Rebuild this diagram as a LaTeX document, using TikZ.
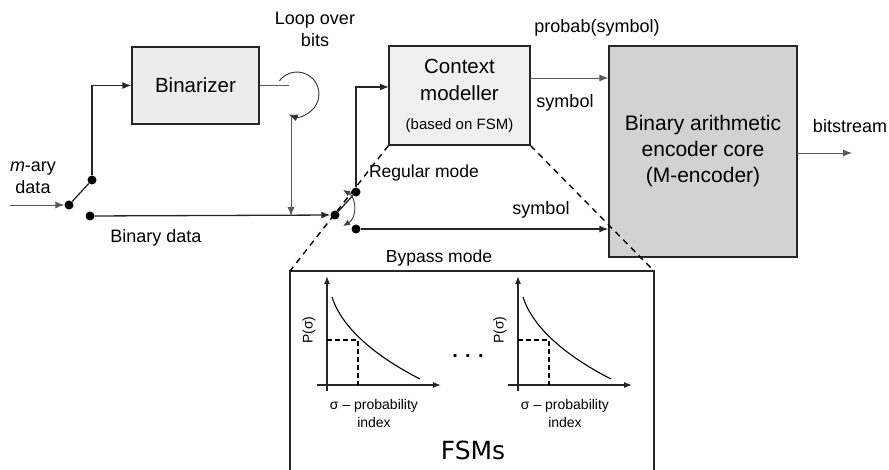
\documentclass[tikz,border=0pt]{standalone}
\usepackage{fontspec}
\setmainfont{Liberation Sans}
\newfontfamily\fsmfont{DejaVu Sans}
\usetikzlibrary{arrows.meta}
\begin{document}
\begin{tikzpicture}[x=1pt,y=-1pt,
  line/.style={draw=black!85, line width=1.3pt},
  thinline/.style={draw=black!65, line width=0.9pt},
  arr/.style={-{Latex[length=9pt,width=7pt]}},
  smallarr/.style={-{Latex[length=8pt,width=6pt]}},
  blk/.style={draw=black!85, line width=1.3pt, inner sep=0pt, align=center},
  dotn/.style={circle, fill=black, inner sep=0pt, minimum size=9pt},
  lbl/.style={font=\fontsize{18}{22}\selectfont, inner sep=0pt, align=center},
  small/.style={font=\fontsize{14}{18}\selectfont, inner sep=0pt, align=center},
  dashline/.style={draw=black, line width=1.4pt, dash pattern=on 6pt off 5pt},
  gdash/.style={draw=black, line width=1.8pt, dash pattern=on 5pt off 3pt}
]
\useasboundingbox (0,0) rectangle (889,470);

% blocks
\node[blk, fill=gray!15, minimum width=127pt, minimum height=77pt,
      font=\fontsize{20.5}{26}\selectfont] (bin) at (195.5,85.5) {Binarizer};
\node[blk, fill=gray!12, minimum width=141pt, minimum height=99pt,
      font=\fontsize{20.5}{27}\selectfont] (ctx) at (459.5,95.5)
      {Context\\modeller\\[2pt]{\fontsize{15}{18}\selectfont (based on FSM)}};
\node[blk, fill=gray!35, minimum width=188pt, minimum height=211pt,
      font=\fontsize{21}{26}\selectfont] (enc) at (703,151.5)
      {Binary arithmetic\\encoder core\\(M-encoder)};

% switch dots
\node[dotn] (d1) at (69,205) {};
\node[dotn] (d2) at (92,180) {};
\node[dotn] (d3) at (90,216) {};
\node[dotn] (d4) at (335,215) {};
\node[dotn] (d5) at (356,192) {};
\node[dotn] (d6) at (356,229) {};

\coordinate (in) at (10,205);
\coordinate (ctxin) at (389,87);
\coordinate (loopstart) at (279.4,80.8);
\coordinate (loopdown) at (291,116);
\coordinate (p1) at (530,78);
\coordinate (bsout) at (797,153);
\coordinate (bsend) at (852,153);
\coordinate (sa) at (343,190);
\coordinate (sb) at (343,226);
\coordinate (fsmtl) at (290,271);
\coordinate (fsmtr) at (654,271);
\coordinate (fsmbl) at (290,472);
\coordinate (fsmbr) at (654,472);

% connectors
\draw[thinline, arr] (in) -- (d1);
\draw[line] (d1) -- (d2);
\draw[line, arr] (d2) |- (bin.west);
\draw[line, arr] (d3) -- (d4);
\draw[thinline] (bin.east) -- (289,85.5);
\draw[thinline, arr, draw=black!80] (loopstart) arc[start angle=-143, end angle=112, radius=22];
\draw[thinline, arr] (loopdown) -- (loopdown |- d3);
\draw[line] (d4) -- (d5);
\draw[line, arr] (d5) |- (ctxin);
\draw[line, arr] (d6) -- (enc.west |- d6);
\draw[thinline, arr] (p1) -- (enc.west |- p1);
\draw[thinline, arr] (bsout) -- (bsend);
\draw[thinline, draw=black!75, {Latex[length=7pt,width=6pt]}-{Latex[length=7pt,width=6pt]}]
  (sa) .. controls (357,198) and (357,218) .. (sb);

% FSM box and dashed zoom lines
\draw[line] (fsmbl) -- (fsmtl) -- (fsmtr) -- (fsmbr);
\draw[dashline] (ctx.south west) -- (fsmtl);
\draw[dashline] (ctx.south east) -- (fsmtr);

% labels
\node[lbl] (loopl) at (315,29) {Loop over\\bits};
\node[lbl] (mary) at (33,178) {\textit{m}-ary\\data};
\node[lbl] (bdata) at (156,238) {Binary data};
\node[lbl, font=\fontsize{17.5}{22}\selectfont] (regm) at (424,173) {Regular mode};
\node[lbl, font=\fontsize{17.5}{22}\selectfont] (bypm) at (439,258) {Bypass mode};
\node[lbl] (prob) at (597,28) {probab(symbol)};
\node[lbl] (sym1) at (565,103) {symbol};
\node[lbl] (sym2) at (541,210) {symbol};
\node[lbl] (bits) at (850,126) {bitstream};

% graphs
\foreach \dx in {0,191} {
  \begin{scope}[xshift=\dx pt]
    \draw[line, smallarr] (327,391) -- (327,276);
    \draw[line, smallarr] (317,385) -- (441,385);
    \draw[draw=black, line width=1.1pt] (332,297) .. controls (342,328) and (375,356) .. (420,379);
    \draw[gdash] (327,340) -- (358,340) -- (358,385);
    \node[small, rotate=90] (py\dx) at (309,330) {P(σ)};
    \node[small] (xl\dx) at (374,413) {σ – probability\\index};
  \end{scope}
}
\node[inner sep=0pt, font=\bfseries\fontsize{20}{24}\selectfont] (ell) at (468,356) {. . .};
\node[inner sep=0pt, font=\fsmfont\fontsize{25}{28}\selectfont] (fsms) at (473,450) {FSMs};
\end{tikzpicture}
\end{document}
